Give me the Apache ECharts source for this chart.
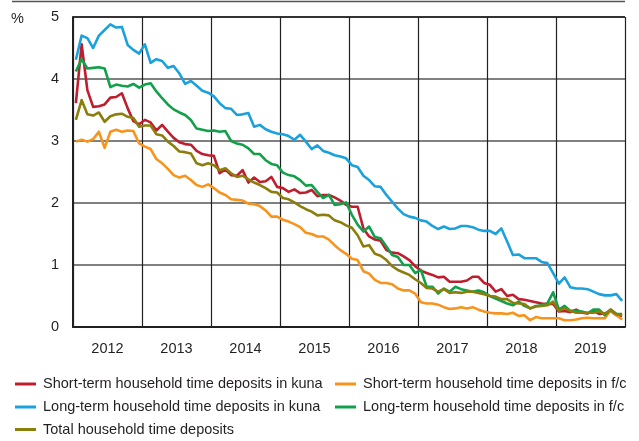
<!DOCTYPE html>
<html>
<head>
<meta charset="utf-8">
<script src="https://cdn.jsdelivr.net/npm/echarts@6/dist/echarts.min.js"></script>
<style>
html,body{margin:0;padding:0;background:#fff;}
#chart{width:639px;height:441px;}
</style>
</head>
<body>
<div id="chart"></div>
<script>
const years = ['2012','2013','2014','2015','2016','2017','2018','2019'];
const months = [];
years.forEach(y => { for (let m = 1; m <= 12; m++) months.push(y + '-' + (m < 10 ? '0' + m : m)); });

const yTicks = [0, 1, 2, 3, 4, 5];

const seriesNames = [
  'Short-term household time deposits in kuna',
  'Short-term household time deposits in f/c',
  'Long-term household time deposits in kuna',
  'Long-term household time deposits in f/c',
  'Total household time deposits'
];

const shortKuna = [
  3.61, 4.56, 3.82, 3.55, 3.56, 3.59, 3.70, 3.71, 3.77, 3.53, 3.32, 3.27,
  3.34, 3.30, 3.17, 3.26, 3.15, 3.05, 2.98, 2.95, 2.94, 2.84, 2.79, 2.77,
  2.76, 2.48, 2.54, 2.45, 2.44, 2.53, 2.33, 2.41, 2.34, 2.35, 2.42, 2.26,
  2.24, 2.18, 2.22, 2.16, 2.17, 2.21, 2.11, 2.13, 2.13, 2.09, 2.04, 1.97,
  1.94, 1.94, 1.59, 1.46, 1.41, 1.39, 1.24, 1.20, 1.19, 1.14, 1.08, 0.98,
  0.91, 0.87, 0.84, 0.80, 0.81, 0.73, 0.73, 0.73, 0.75, 0.81, 0.81, 0.71,
  0.68, 0.57, 0.61, 0.50, 0.52, 0.45, 0.44, 0.42, 0.40, 0.38, 0.37, 0.37,
  0.25, 0.26, 0.24, 0.28, 0.23, 0.22, 0.26, 0.21, 0.22, 0.26, 0.19, 0.18
];
const shortFc = [
  2.99, 3.02, 2.99, 3.03, 3.15, 2.89, 3.15, 3.18, 3.15, 3.17, 3.16, 2.96,
  2.91, 2.87, 2.71, 2.64, 2.55, 2.45, 2.41, 2.44, 2.37, 2.29, 2.26, 2.30,
  2.24, 2.17, 2.13, 2.06, 2.05, 2.04, 1.99, 1.98, 1.95, 1.88, 1.78, 1.78,
  1.73, 1.70, 1.66, 1.61, 1.52, 1.50, 1.46, 1.46, 1.41, 1.32, 1.24, 1.18,
  1.10, 1.08, 0.90, 0.86, 0.76, 0.71, 0.71, 0.69, 0.62, 0.59, 0.59, 0.54,
  0.40, 0.38, 0.38, 0.36, 0.32, 0.29, 0.30, 0.32, 0.30, 0.32, 0.28, 0.25,
  0.23, 0.22, 0.22, 0.21, 0.23, 0.18, 0.19, 0.11, 0.16, 0.14, 0.14, 0.14,
  0.14, 0.11, 0.11, 0.12, 0.14, 0.15, 0.14, 0.14, 0.14, 0.27, 0.19, 0.12
];
const longKuna = [
  4.31, 4.70, 4.66, 4.50, 4.70, 4.79, 4.88, 4.83, 4.84, 4.55, 4.47, 4.41,
  4.56, 4.26, 4.32, 4.29, 4.18, 4.21, 4.09, 3.92, 3.97, 3.89, 3.81, 3.78,
  3.72, 3.61, 3.53, 3.52, 3.42, 3.43, 3.45, 3.23, 3.26, 3.19, 3.15, 3.12,
  3.11, 3.08, 3.02, 3.10, 2.99, 2.87, 2.93, 2.84, 2.81, 2.77, 2.75, 2.72,
  2.61, 2.58, 2.44, 2.37, 2.27, 2.26, 2.13, 2.02, 1.91, 1.82, 1.78, 1.76,
  1.72, 1.70, 1.63, 1.58, 1.62, 1.58, 1.59, 1.63, 1.63, 1.61, 1.57, 1.55,
  1.55, 1.50, 1.59, 1.38, 1.16, 1.17, 1.11, 1.11, 1.11, 1.05, 1.03, 0.87,
  0.70, 0.80, 0.64, 0.62, 0.62, 0.61, 0.57, 0.53, 0.51, 0.51, 0.53, 0.42
];
const longFc = [
  4.12, 4.32, 4.17, 4.18, 4.19, 4.17, 3.87, 3.91, 3.89, 3.88, 3.92, 3.86,
  3.91, 3.93, 3.80, 3.69, 3.59, 3.51, 3.46, 3.42, 3.34, 3.20, 3.18, 3.16,
  3.17, 3.15, 3.16, 3.00, 2.96, 2.94, 2.88, 2.79, 2.79, 2.69, 2.63, 2.61,
  2.49, 2.45, 2.43, 2.37, 2.28, 2.29, 2.18, 2.08, 2.13, 1.97, 1.98, 2.01,
  1.81, 1.65, 1.54, 1.62, 1.45, 1.43, 1.30, 1.16, 1.13, 1.00, 1.00, 0.87,
  0.92, 0.65, 0.65, 0.54, 0.62, 0.57, 0.65, 0.61, 0.59, 0.57, 0.59, 0.56,
  0.50, 0.46, 0.42, 0.38, 0.35, 0.41, 0.34, 0.30, 0.34, 0.35, 0.38, 0.56,
  0.28, 0.34, 0.26, 0.26, 0.25, 0.22, 0.28, 0.28, 0.19, 0.28, 0.21, 0.21
];
const total = [
  3.34, 3.66, 3.43, 3.41, 3.46, 3.31, 3.40, 3.43, 3.44, 3.39, 3.37, 3.23,
  3.25, 3.25, 3.11, 3.09, 2.99, 2.92, 2.83, 2.82, 2.80, 2.64, 2.61, 2.64,
  2.61, 2.53, 2.56, 2.48, 2.42, 2.44, 2.38, 2.33, 2.29, 2.24, 2.18, 2.17,
  2.08, 2.06, 2.01, 1.95, 1.90, 1.86, 1.80, 1.81, 1.80, 1.72, 1.69, 1.64,
  1.60, 1.48, 1.30, 1.32, 1.18, 1.15, 1.08, 0.98, 0.92, 0.88, 0.84, 0.77,
  0.71, 0.63, 0.62, 0.57, 0.61, 0.55, 0.56, 0.55, 0.57, 0.57, 0.55, 0.53,
  0.50, 0.49, 0.45, 0.45, 0.39, 0.38, 0.37, 0.30, 0.33, 0.34, 0.35, 0.41,
  0.26, 0.30, 0.26, 0.23, 0.23, 0.23, 0.23, 0.25, 0.21, 0.28, 0.21, 0.19
];

const colors = ['#BE1E2D', '#F7941D', '#1BA1DB', '#12A04A', '#8C7E0C'];
const FONT = '"Liberation Sans", Arial, sans-serif';
const FS = 14.5;

const chart = echarts.init(document.getElementById('chart'), null, {renderer: 'canvas'});

function mk(name, data, color) {
  return {
    name: name, type: 'line', data: data, xAxisIndex: 0, yAxisIndex: 0,
    symbol: 'none', smooth: false,
    lineStyle: {color: color, width: 2.6, join: 'round'},
    itemStyle: {color: color},
    emphasis: {disabled: true},
    animation: false
  };
}

const legendText = {color: '#231F20', fontSize: FS, fontFamily: FONT, padding: [0, 0, 0, 2]};
function lg(name, left, top) {
  return {
    orient: 'horizontal', left: left, top: top, padding: 0,
    itemWidth: 21, itemHeight: 3, icon: 'rect',
    data: [name], textStyle: legendText, selectedMode: false
  };
}

chart.setOption({
  animation: false,
  title: {
    text: '%', left: 11, top: 11, padding: 0,
    textStyle: {fontSize: FS, fontWeight: 'normal', color: '#231F20', fontFamily: FONT}
  },
  graphic: [{
    type: 'line', shape: {x1: 12, y1: 1.5, x2: 625, y2: 1.5},
    style: {stroke: '#555', lineWidth: 1.5}, silent: true
  }],
  grid: {left: 73, right: 14, top: 17, bottom: 114, containLabel: false},
  legend: [
    lg(seriesNames[0], 15, 376.5),
    lg(seriesNames[1], 335, 376.5),
    lg(seriesNames[2], 15, 399.5),
    lg(seriesNames[3], 335, 399.5),
    lg(seriesNames[4], 15, 422)
  ],
  xAxis: [
    {
      type: 'category', data: months, boundaryGap: true, show: false,
      position: 'bottom'
    },
    {
      type: 'category', data: years, boundaryGap: true, position: 'bottom',
      axisLine: {show: true, lineStyle: {color: '#231F20', width: 2}},
      axisTick: {show: false},
      axisLabel: {color: '#231F20', fontSize: FS, fontFamily: FONT, margin: 14},
      splitLine: {show: true, lineStyle: {color: '#231F20', width: 1.2}}
    }
  ],
  yAxis: [{
    type: 'value', min: yTicks[0], max: yTicks[yTicks.length - 1], interval: 1,
    axisLine: {show: true, lineStyle: {color: '#231F20', width: 2}},
    axisTick: {show: false},
    axisLabel: {color: '#231F20', fontSize: FS, fontFamily: FONT, margin: 14},
    splitLine: {show: true, lineStyle: {color: ['#231F20', '#808080', '#808080', '#808080', '#808080', '#333'], width: 2}}
  }],
  series: [
    mk(seriesNames[0], shortKuna, colors[0]),
    mk(seriesNames[1], shortFc, colors[1]),
    mk(seriesNames[2], longKuna, colors[2]),
    mk(seriesNames[3], longFc, colors[3]),
    mk(seriesNames[4], total, colors[4])
  ]
});
</script>
</body>
</html>
